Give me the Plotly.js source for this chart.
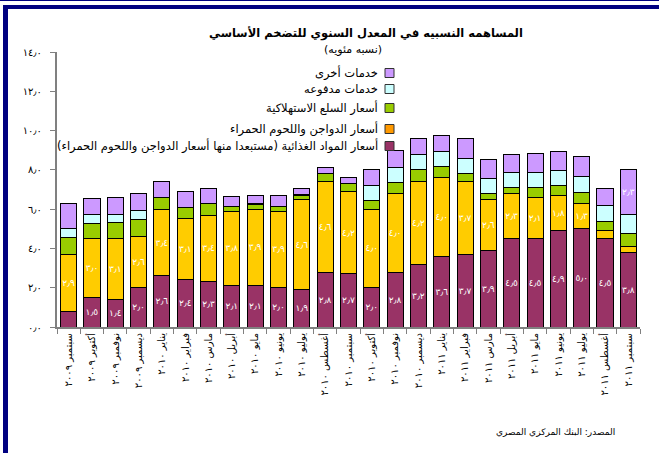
<!DOCTYPE html>
<html>
<head>
<meta charset="utf-8">
<script src="https://cdn.plot.ly/plotly-3.0.1.min.js"></script>
<style>
  html, body { margin: 0; padding: 0; background: #fff; }
  #wrap { position: relative; width: 659px; height: 453px; overflow: hidden; }
  #chart { position: absolute; left: 0; top: 0; width: 659px; height: 453px; }
  .bd { position: absolute; background: #000080; }
</style>
</head>
<body>
<div id="wrap">
  <div id="chart"></div>
  <div class="bd" style="left:0;top:0;width:659px;height:1px;"></div>
  <div class="bd" style="left:3px;top:5px;width:656px;height:4px;"></div>
  <div class="bd" style="left:3px;top:5px;width:5px;height:448px;"></div>
</div>
<script>
// ---- data ----
const months = ["سبتمبر","أكتوبر","نوفمبر","ديسمبر","يناير","فبراير","مارس","أبريل","مايو","يونيو","يوليو","أغسطس",
                "سبتمبر","أكتوبر","نوفمبر","ديسمبر","يناير","فبراير","مارس","أبريل","مايو","يونيو","يوليو","أغسطس","سبتمبر"];
const years  = ["٢٠٠٩","٢٠٠٩","٢٠٠٩","٢٠٠٩","٢٠١٠","٢٠١٠","٢٠١٠","٢٠١٠","٢٠١٠","٢٠١٠","٢٠١٠","٢٠١٠",
                "٢٠١٠","٢٠١٠","٢٠١٠","٢٠١٠","٢٠١١","٢٠١١","٢٠١١","٢٠١١","٢٠١١","٢٠١١","٢٠١١","٢٠١١","٢٠١١"];

const foodExcl   = [0.8,1.5,1.4,2.0,2.6,2.4,2.3,2.1,2.1,2.0,1.9,2.8,2.7,2.0,2.8,3.2,3.6,3.7,3.9,4.5,4.5,4.9,5.0,4.5,3.8];
const poultryMeat= [2.9,3.0,3.1,2.6,3.4,3.1,3.4,3.8,3.9,3.9,4.6,4.6,4.2,4.0,4.0,4.2,4.0,3.7,2.6,2.3,2.1,1.8,1.3,0.4,0.3];
const consumer   = [0.87,0.76,0.8,0.87,0.6,0.6,0.6,0.22,0.22,0.23,0.18,0.41,0.4,0.46,0.55,0.6,0.55,0.4,0.29,0.28,0.5,0.51,0.56,0.46,0.66];
const regulated  = [0.42,0.46,0.44,0.46,0,0,0,0,0.07,0,0.09,0,0,0.75,0.77,0.78,0.78,0.78,0.77,0.77,0.75,0.75,0.8,0.82,0.95];
const otherSvc   = [1.28,0.82,0.83,0.87,0.8,0.78,0.77,0.5,0.43,0.56,0.3,0.32,0.33,0.82,0.85,0.81,0.83,1.0,0.95,0.95,0.97,0.97,1.0,0.86,2.3];

// which segments carry a value label
const showFood    = [0,1,1,1,1,1,1,1,1,1,1,1,1,1,1,1,1,1,1,1,1,1,1,1,1];
const showPoultry = [1,1,1,1,1,1,1,1,1,1,1,1,1,1,1,1,1,1,1,1,1,1,1,0,0];
const showOther   = [0,0,0,0,0,0,0,0,0,0,0,0,0,0,0,0,0,0,0,0,0,0,0,0,1];

const yTickVals = [0,2,4,6,8,10,12,14];
const yTickText = ["٠٫٠","٢٫٠","٤٫٠","٦٫٠","٨٫٠","١٠٫٠","١٢٫٠","١٤٫٠"];

const seriesNames = [
  "أسعار المواد الغذائية (مستبعدا منها أسعار الدواجن واللحوم الحمراء)",
  "أسعار الدواجن واللحوم الحمراء",
  "أسعار السلع الاستهلاكية",
  "خدمات مدفوعه",
  "خدمات أخرى"
];
const barColors    = ["#993366","#FFCC00","#99CC00","#CCFFFF","#CC99FF"];
const legendColors = ["#993366","#FF9900","#99CC00","#CCFFFF","#CC99FF"];

// ---- helpers ----
const AR = "٠١٢٣٤٥٦٧٨٩";
function arNum(v){
  return v.toFixed(1).replace(/\d/g, d => AR[+d]).replace(".", "٫");
}
const cats = months.map((m,i) => m + " " + years[i]);

function mkTrace(vals, show, k){
  return {
    type: "bar",
    x: cats, y: vals,
    name: seriesNames[k],
    marker: { color: barColors[k], line: { color: "#000", width: 1 } },
    text: show ? vals.map((v,i) => show[i] ? arNum(v) : "") : vals.map(() => ""),
    textposition: "inside",
    insidetextanchor: "middle",
    textangle: 0,
    constraintext: "none",
    textfont: { color: "#ffffff", size: 9, family: "DejaVu Sans, sans-serif" },
    hoverinfo: "skip",
    showlegend: false
  };
}

const data = [
  mkTrace(foodExcl, showFood, 0),
  mkTrace(poultryMeat, showPoultry, 1),
  mkTrace(consumer, null, 2),
  mkTrace(regulated, null, 3),
  mkTrace(otherSvc, showOther, 4)
];

// legend drawn RTL (text right, marker right of text)
const L = 57, R = 640, T = 52, B = 327;
const px2x = p => (p - L) / (R - L);
const px2y = p => (B - p) / (B - T);
const legY = [146, 129, 108, 89, 73];
const annotations = [];
const shapes = [];
for (let k = 0; k < 5; k++){
  annotations.push({
    xref: "paper", yref: "paper", x: px2x(380), y: px2y(legY[k]),
    xanchor: "right", yanchor: "middle", showarrow: false,
    text: seriesNames[k],
    font: { size: 11.5, color: "#000", family: "DejaVu Sans, sans-serif" }
  });
  shapes.push({
    type: "rect", xref: "paper", yref: "paper",
    x0: px2x(385), x1: px2x(394), y0: px2y(legY[k] + 4.5), y1: px2y(legY[k] - 4.5),
    fillcolor: legendColors[k], line: { color: "#333", width: 1 }
  });
}
annotations.push({
  xref: "paper", yref: "paper", x: px2x(353), y: px2y(50),
  xanchor: "center", yanchor: "middle", showarrow: false,
  text: "(نسبه مئويه)",
  font: { size: 11, color: "#000", family: "DejaVu Sans, sans-serif" }
});
annotations.push({
  xref: "paper", yref: "paper", x: px2x(617), y: px2y(432),
  xanchor: "right", yanchor: "middle", showarrow: false,
  text: "المصدر: البنك المركزي المصري",
  font: { size: 9, color: "#000", family: "DejaVu Sans, sans-serif" }
});

const layout = {
  width: 659, height: 453,
  margin: { l: L, r: 659 - R, t: T, b: 453 - B, pad: 0 },
  paper_bgcolor: "rgba(0,0,0,0)",
  plot_bgcolor: "#fff",
  barmode: "stack",
  bargap: 0.31,
  font: { family: "Liberation Sans, DejaVu Sans, sans-serif", color: "#000" },
  title: {
    text: "<b>المساهمه النسبيه في المعدل السنوي للتضخم الأساسي</b>",
    x: 366 / 659, xref: "container", xanchor: "center",
    y: 1 - 33 / 453, yref: "container", yanchor: "middle",
    font: { size: 11.5, color: "#000", family: "DejaVu Sans, sans-serif" }
  },
  xaxis: {
    type: "category",
    tickangle: -90,
    tickson: "boundaries",
    ticks: "outside", ticklen: 5, tickcolor: "#808080",
    showline: true, linecolor: "#808080", linewidth: 2,
    showgrid: false, zeroline: false,
    tickfont: { size: 10, family: "DejaVu Sans, sans-serif" },
    fixedrange: true
  },
  yaxis: {
    range: [0, 14],
    tickvals: yTickVals, ticktext: yTickText,
    ticks: "outside", ticklen: 5, tickcolor: "#808080",
    showline: true, linecolor: "#808080", linewidth: 2,
    showgrid: false, zeroline: false,
    tickfont: { size: 10, family: "DejaVu Sans, sans-serif" },
    ticklabelstandoff: 6,
    fixedrange: true
  },
  annotations: annotations,
  shapes: shapes,
  showlegend: false
};

Plotly.newPlot("chart", data, layout, { displayModeBar: false, staticPlot: true });
</script>
</body>
</html>
